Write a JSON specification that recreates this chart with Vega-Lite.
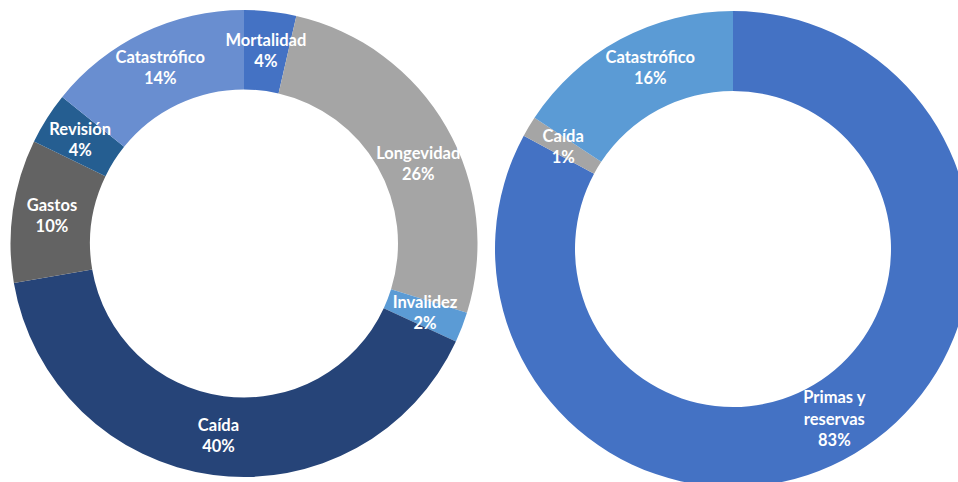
{
  "$schema": "https://vega.github.io/schema/vega-lite/v6.json",
  "padding": 0,
  "spacing": 0,
  "background": "white",
  "config": {"view": {"stroke": null}},
  "resolve": {"scale": {"color": "independent", "theta": "independent"}},
  "datasets": {
    "left": [
      {"name": "Mortalidad", "share": 0.036, "order": 1},
      {"name": "Longevidad", "share": 0.262, "order": 2},
      {"name": "Invalidez", "share": 0.021, "order": 3},
      {"name": "Caída", "share": 0.404, "order": 4},
      {"name": "Gastos", "share": 0.099, "order": 5},
      {"name": "Revisión", "share": 0.036, "order": 6},
      {"name": "Catastrófico", "share": 0.142, "order": 7}
    ],
    "right": [
      {"name": "Primas y\nreservas", "share": 0.829, "order": 1},
      {"name": "Caída", "share": 0.014, "order": 2},
      {"name": "Catastrófico", "share": 0.157, "order": 3}
    ]
  },
  "hconcat": [
    {
      "width": 488,
      "height": 487,
      "data": {"name": "left"},
      "encoding": {
        "theta": {"field": "share", "type": "quantitative", "stack": true},
        "order": {"field": "order", "type": "quantitative"},
        "detail": {"field": "name", "type": "nominal"}
      },
      "layer": [
        {
          "mark": {"type": "arc", "outerRadius": 233.5, "innerRadius": 154},
          "encoding": {
            "color": {
              "field": "name",
              "type": "nominal",
              "legend": null,
              "scale": {
                "domain": ["Mortalidad", "Longevidad", "Invalidez", "Caída", "Gastos", "Revisión", "Catastrófico"],
                "range": ["#4472C4", "#A5A5A5", "#5B9BD5", "#264478", "#636363", "#255E91", "#698ED0"]
              }
            }
          }
        },
        {
          "mark": {"type": "text", "radius": 194, "baseline": "bottom", "dy": -2, "font": "Lato", "fontSize": 16.5, "fontWeight": "bold", "color": "white"},
          "encoding": {"text": {"condition": {"test": "datum.name === 'Longevidad'", "value": ""}, "field": "name", "type": "nominal"}}
        },
        {
          "mark": {"type": "text", "radius": 194, "dy": 11, "font": "Lato", "fontSize": 16.5, "fontWeight": "bold", "color": "white"},
          "encoding": {"text": {"condition": {"test": "datum.name === 'Longevidad'", "value": ""}, "field": "share", "type": "quantitative", "format": ".0%"}}
        },
        {
          "mark": {"type": "text", "radius": 194, "baseline": "bottom", "dx": 6, "dy": 15, "font": "Lato", "fontSize": 16.5, "fontWeight": "bold", "color": "white"},
          "encoding": {"text": {"condition": {"test": "datum.name !== 'Longevidad'", "value": ""}, "field": "name", "type": "nominal"}}
        },
        {
          "mark": {"type": "text", "radius": 194, "dx": 6, "dy": 28, "font": "Lato", "fontSize": 16.5, "fontWeight": "bold", "color": "white"},
          "encoding": {"text": {"condition": {"test": "datum.name !== 'Longevidad'", "value": ""}, "field": "share", "type": "quantitative", "format": ".0%"}}
        }
      ]
    },
    {
      "width": 490,
      "height": 498,
      "data": {"name": "right"},
      "encoding": {
        "theta": {"field": "share", "type": "quantitative", "stack": true},
        "order": {"field": "order", "type": "quantitative"},
        "detail": {"field": "name", "type": "nominal"}
      },
      "layer": [
        {
          "mark": {"type": "arc", "outerRadius": 238, "innerRadius": 158},
          "encoding": {
            "color": {
              "field": "name",
              "type": "nominal",
              "legend": null,
              "scale": {
                "domain": ["Primas y\nreservas", "Caída", "Catastrófico"],
                "range": ["#4472C4", "#A5A5A5", "#5B9BD5"]
              }
            }
          }
        },
        {
          "mark": {"type": "text", "radius": 198, "baseline": "bottom", "dy": -2, "font": "Lato", "fontSize": 16.5, "fontWeight": "bold", "color": "white"},
          "encoding": {"text": {"condition": {"test": "datum.name !== 'Caída'", "value": ""}, "field": "name", "type": "nominal"}}
        },
        {
          "mark": {"type": "text", "radius": 198, "dy": 11, "font": "Lato", "fontSize": 16.5, "fontWeight": "bold", "color": "white"},
          "encoding": {"text": {"condition": {"test": "datum.name !== 'Caída'", "value": ""}, "field": "share", "type": "quantitative", "format": ".0%"}}
        },
        {
          "mark": {"type": "text", "radius": 198, "baseline": "bottom", "dx": 11, "dy": -9, "font": "Lato", "fontSize": 16.5, "fontWeight": "bold", "color": "white"},
          "encoding": {"text": {"condition": {"test": "datum.name !== 'Catastrófico'", "value": ""}, "field": "name", "type": "nominal"}}
        },
        {
          "mark": {"type": "text", "radius": 198, "dx": 11, "dy": 4, "font": "Lato", "fontSize": 16.5, "fontWeight": "bold", "color": "white"},
          "encoding": {"text": {"condition": {"test": "datum.name !== 'Catastrófico'", "value": ""}, "field": "share", "type": "quantitative", "format": ".0%"}}
        },
        {
          "mark": {"type": "text", "radius": 198, "baseline": "bottom", "dy": -13, "font": "Lato", "fontSize": 16.5, "fontWeight": "bold", "color": "white", "lineBreak": "\n", "lineHeight": 22},
          "encoding": {"text": {"condition": {"test": "datum.order !== 1", "value": ""}, "field": "name", "type": "nominal"}}
        },
        {
          "mark": {"type": "text", "radius": 198, "dy": 22, "font": "Lato", "fontSize": 16.5, "fontWeight": "bold", "color": "white"},
          "encoding": {"text": {"condition": {"test": "datum.order !== 1", "value": ""}, "field": "share", "type": "quantitative", "format": ".0%"}}
        }
      ]
    }
  ]
}
